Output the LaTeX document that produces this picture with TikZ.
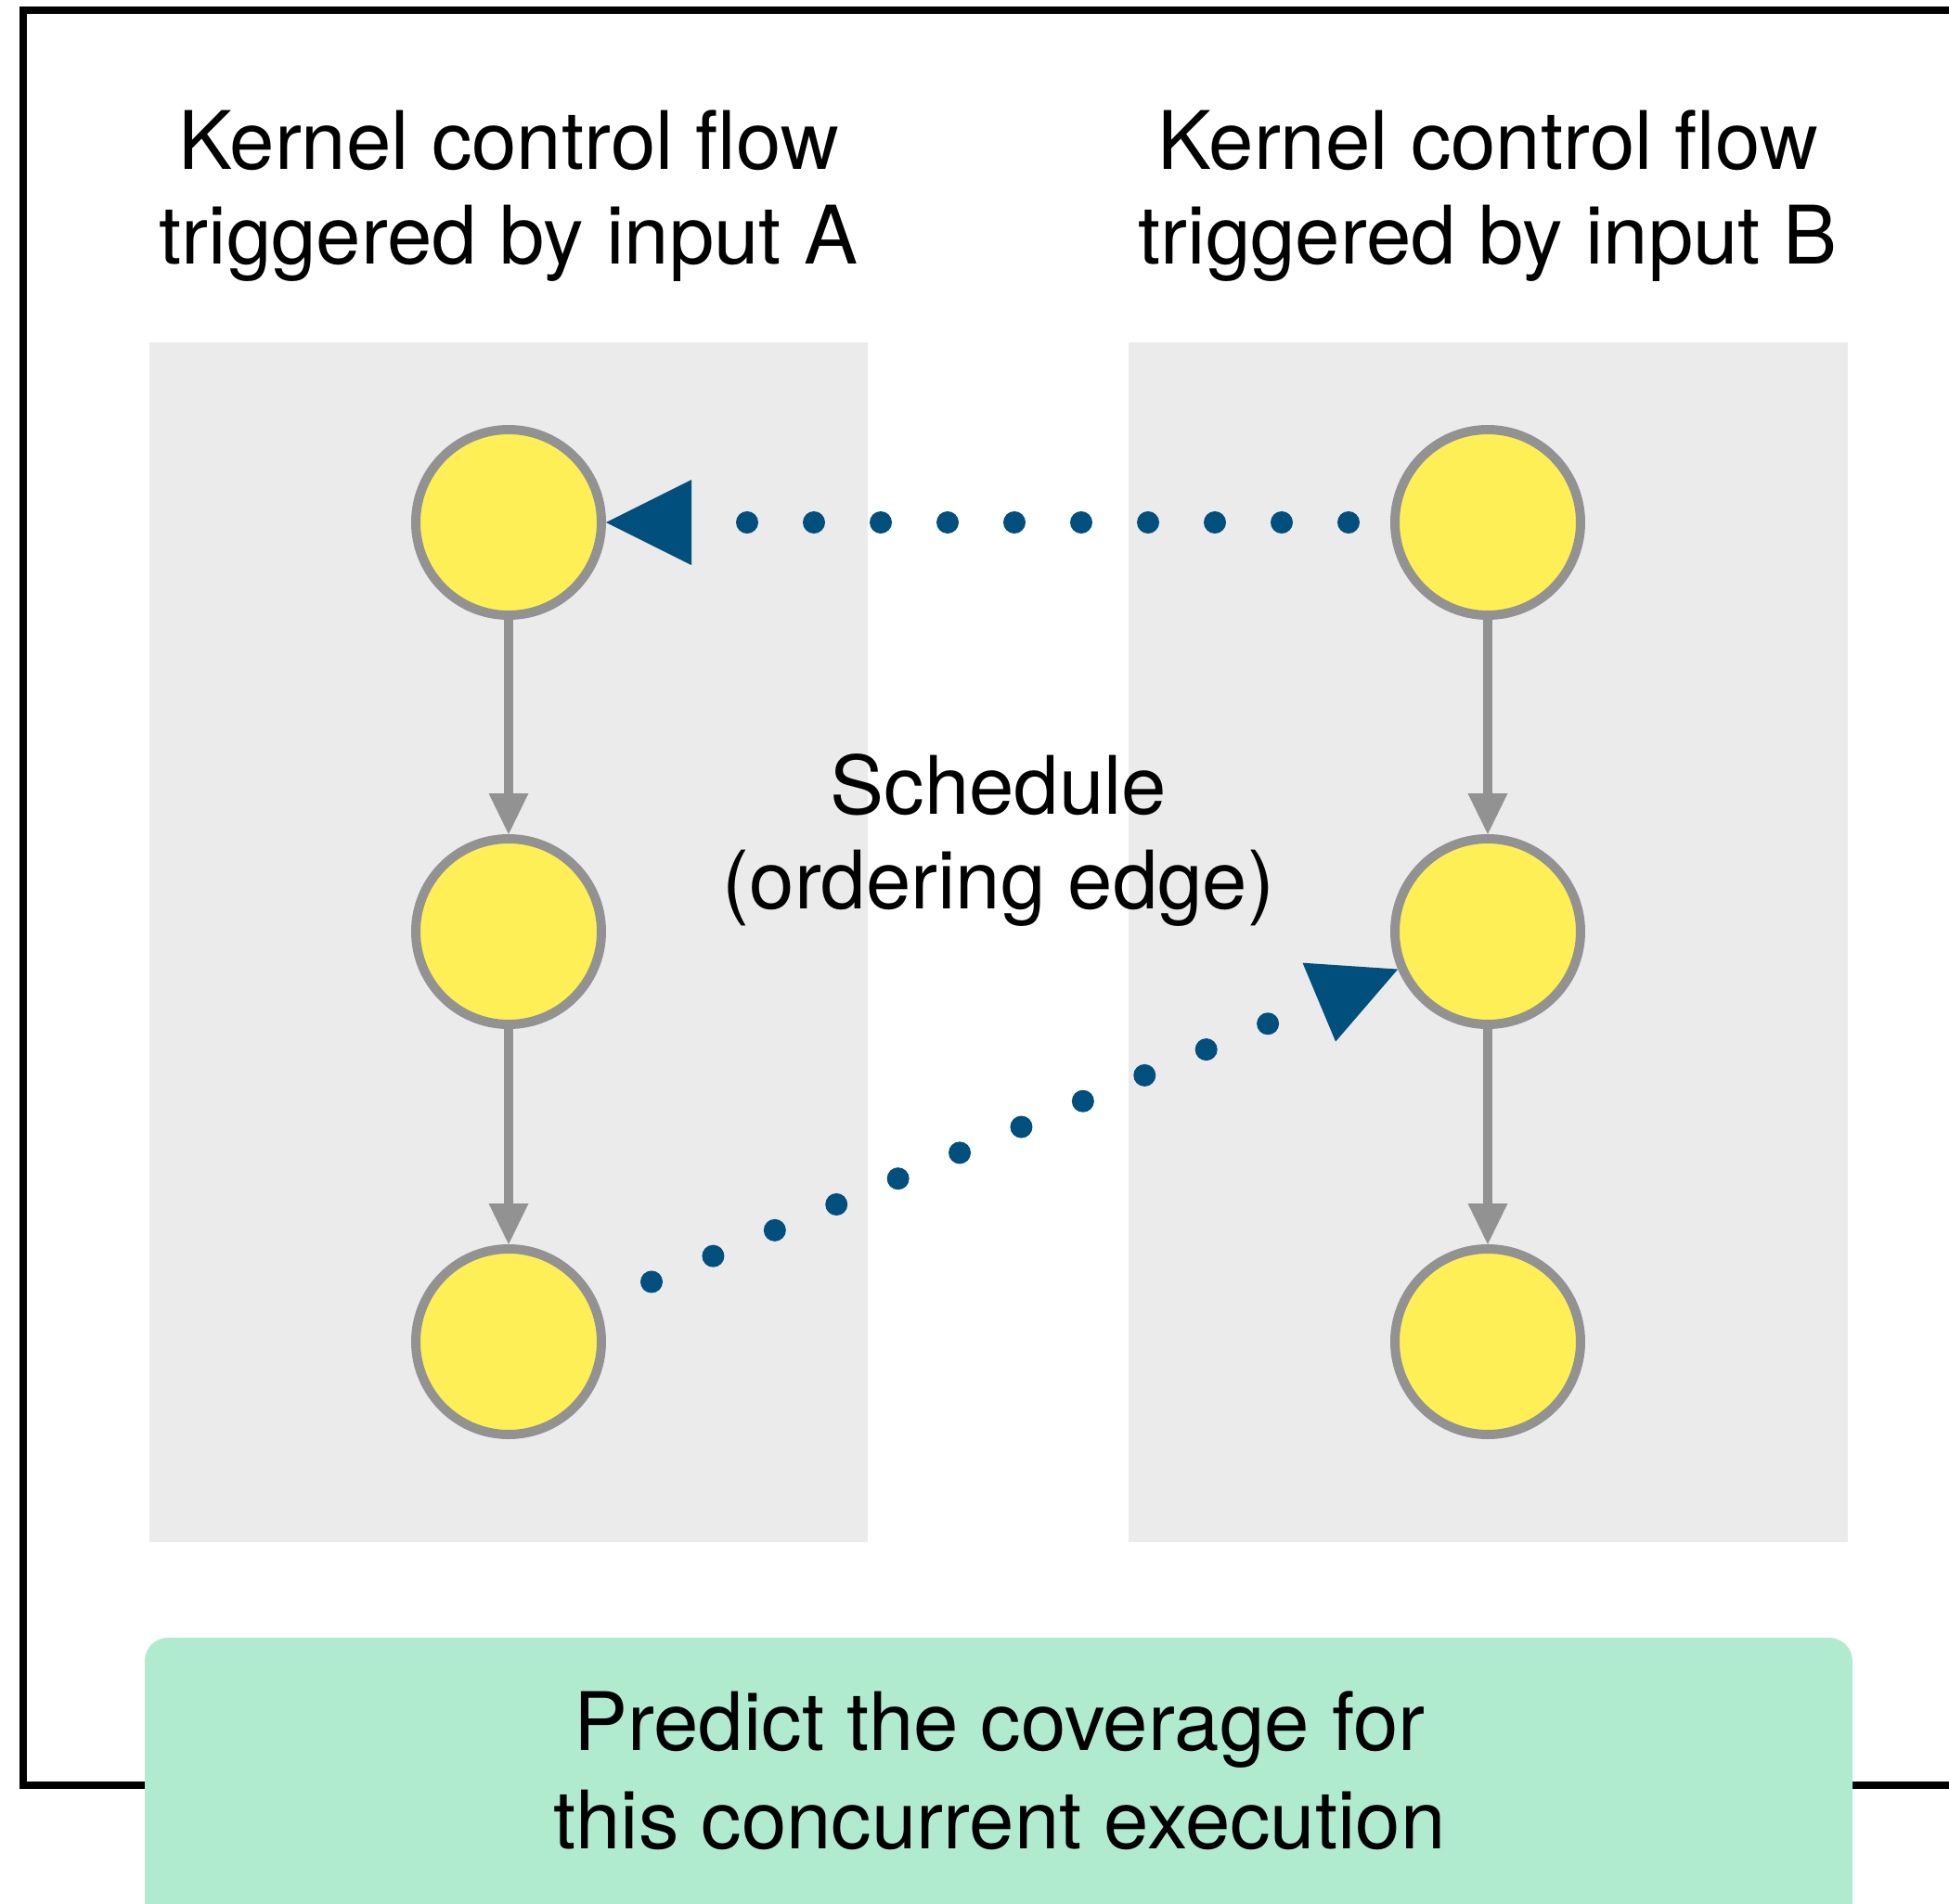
\documentclass[tikz,border=0pt]{standalone}
\usepackage{fontspec}
\setmainfont{TeX Gyre Heros}
\usetikzlibrary{arrows.meta}
\definecolor{panelgray}{HTML}{EBEBEB}
\definecolor{nodeyellow}{HTML}{FFEF57}
\definecolor{rimgray}{HTML}{929292}
\definecolor{orderblue}{HTML}{004F7D}
\definecolor{notegreen}{HTML}{B0EBD0}
\begin{document}
\begin{tikzpicture}[
  event/.style={circle, draw=rimgray, fill=nodeyellow, line width=0.1cm,
    minimum size=2cm, inner sep=0pt},
  flow/.style={rimgray, line width=0.1cm,
    -{Triangle[length=0.44cm, width=0.43cm, line width=0pt]}},
  ordering/.style={orderblue, line width=0.24cm, line cap=round,
    dash pattern=on 0pt off 0.72cm,
    -{Triangle[length=0.92cm, width=0.92cm, line width=0pt]}},
  caption/.style={font=\fontsize{24.75pt}{29.3pt}\selectfont, anchor=base, inner sep=0pt},
  notetext/.style={font=\fontsize{24.75pt}{30.4pt}\selectfont, anchor=base, inner sep=0pt},
]
\useasboundingbox (0,0) rectangle (21,-20.52);

% outer frame (open on the right)
\draw[line width=0.08cm] (21.1,-0.105) -- (0.25,-0.105) -- (0.25,-19.24) -- (21.1,-19.24);

% background lanes for the two control flows
\fill[panelgray] (1.61,-3.69) rectangle (9.35,-16.62);
\fill[panelgray] (12.16,-3.69) rectangle (19.91,-16.62);

% column headings
\node[caption] (titleA) at (5.48,-1.82)
  {\begin{tabular}[t]{@{}c@{}}Kernel control flow\\triggered by input A\end{tabular}};
\node[caption] (titleB) at (16.03,-1.82)
  {\begin{tabular}[t]{@{}c@{}}Kernel control flow\\triggered by input B\end{tabular}};

% basic blocks
\node[event] (A1) at (5.48,-5.63) {};
\node[event] (A2) at (5.48,-10.04) {};
\node[event] (A3) at (5.48,-14.46) {};
\node[event] (B1) at (16.03,-5.63) {};
\node[event] (B2) at (16.03,-10.04) {};
\node[event] (B3) at (16.03,-14.46) {};

% control-flow edges
\draw[flow] (A1) -- (A2);
\draw[flow] (A2) -- (A3);
\draw[flow] (B1) -- (B2);
\draw[flow] (B2) -- (B3);

% ordering edges of the schedule
\draw[ordering, dash phase=0.27cm] (B1) -- (A1);
\draw[ordering, dash phase=0.10cm] (A3) -- (B2);

\node[caption] (schedule) at (10.76,-8.77)
  {\begin{tabular}[t]{@{}c@{}}Schedule\\(ordering edge)\end{tabular}};

% prediction box
\fill[notegreen, rounded corners=0.25cm] (1.56,-17.65) rectangle (19.96,-20.8);
\node[notetext] (note) at (10.77,-18.86)
  {\begin{tabular}[t]{@{}c@{}}Predict the coverage for\\this concurrent execution\end{tabular}};
\end{tikzpicture}
\end{document}
